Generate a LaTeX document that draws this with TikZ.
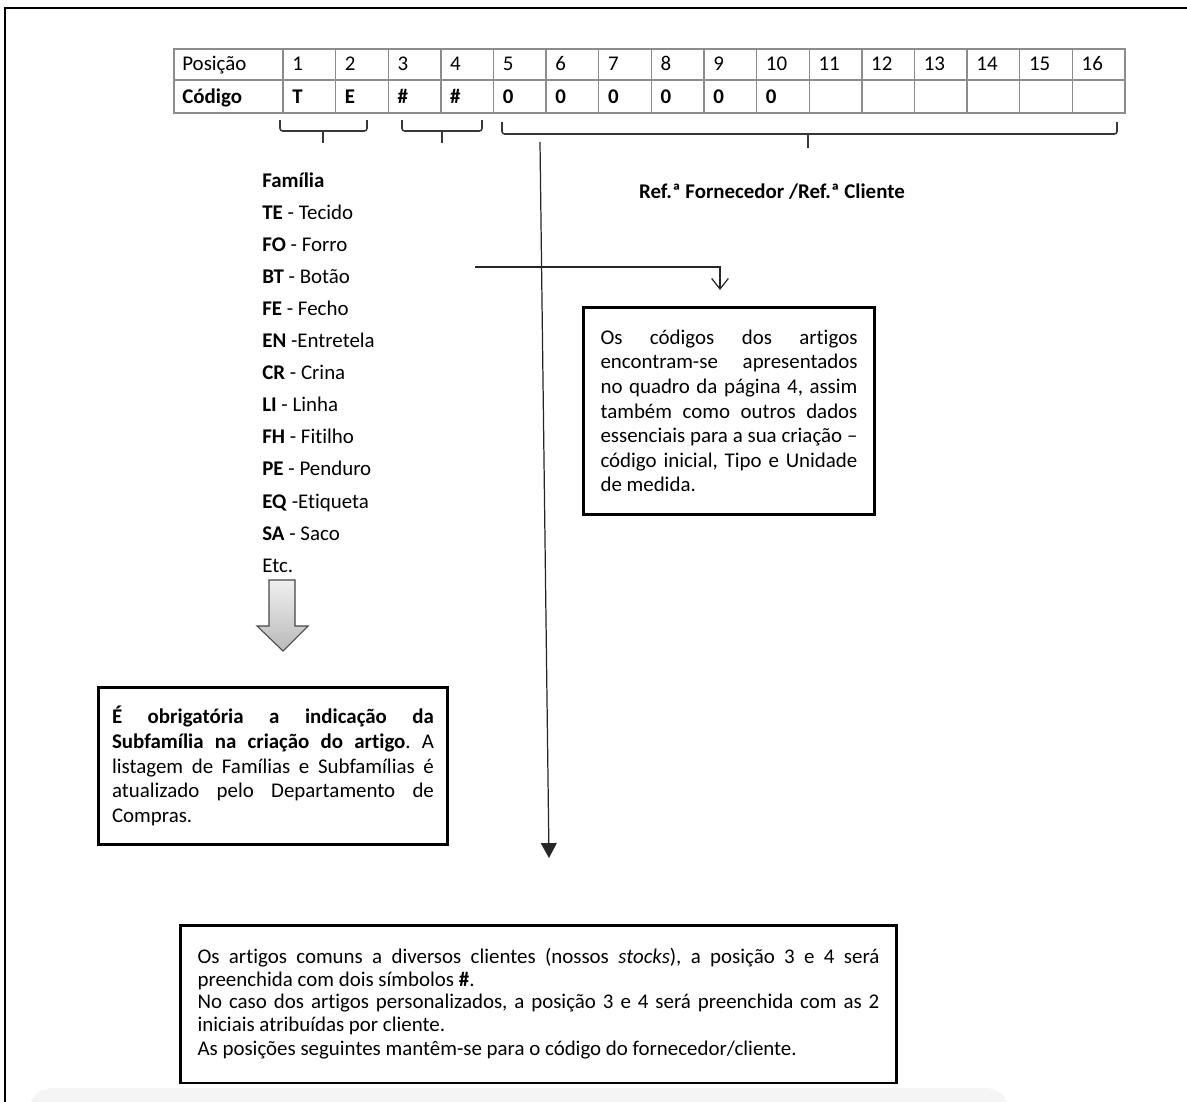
\documentclass[tikz,border=0pt]{standalone}
\usepackage{fontspec}
\setmainfont{Carlito}[Ligatures=NoCommon]
\usetikzlibrary{arrows.meta,positioning}
\definecolor{tabgray}{RGB}{140,140,140}
\definecolor{bracegray}{RGB}{55,55,55}
\definecolor{pagegray}{RGB}{245,245,245}
\frenchspacing

\begin{document}
\begin{tikzpicture}[x=0.02cm, y=-0.02cm,
  every node/.style={font=\fontsize{11.9}{14}\selectfont, inner sep=0pt},
  tabline/.style={draw=tabgray, line width=0.8pt},
  cell/.style={anchor=base west},
  famitem/.style={anchor=base west},
  brace/.style={draw=bracegray, line width=0.9pt, rounded corners=1.5pt},
  notebox/.style={draw, line width=1.7pt, fill=white, align=justify, inner ysep=0pt},
  link/.style={draw=black!85, line width=0.7pt}]
  \useasboundingbox (0,0) rectangle (1187,1102);
  \fill[pagegray, rounded corners=14pt] (28,1088) rectangle (1010,1140);
  \draw[line width=1.6pt] (5,1102) -- (5,8) -- (1187,8);

  % table
  \draw[tabline] (174,49) rectangle (1125,113);
  \draw[tabline] (174,80) -- (1125,80);
  \foreach \c in {0,...,15}
    \draw[tabline] ({283+52.625*\c},49) -- ({283+52.625*\c},113);
  \node[cell] (posh) at (182,71) {Posição};
  \node[cell] (codh) at (182,103) {\textbf{Código}};
  \foreach \n in {1,...,16}
    \node[cell] (pos\n) at ({292+52.625*(\n-1)},71) {\n};
  \foreach \v [count=\n] in {T,E,\#,\#,0,0,0,0,0,0}
    \node[cell] (cod\n) at ({292+52.625*(\n-1)},103) {\textbf{\v}};

  % brackets under the table
  \draw[brace] (280,120) -- (280,131) -- (367,131) -- (367,120);
  \draw[brace] (323,131) -- (323,143);
  \draw[brace] (402,120) -- (402,131) -- (482,131) -- (482,120);
  \draw[brace] (442,131) -- (442,143);
  \draw[brace] (502,122) -- (502,134) -- (1117,134) -- (1117,122);
  \draw[brace] (808,134) -- (808,148);

  % families
  \foreach \t [count=\k] in {\textbf{Família}, \textbf{TE} - Tecido, \textbf{FO} - Forro,
      \textbf{BT} - Botão, \textbf{FE} - Fecho, \textbf{EN} -Entretela, \textbf{CR} - Crina,
      \textbf{LI} - Linha, \textbf{FH} - Fitilho, \textbf{PE} - Penduro,
      \textbf{EQ} -Etiqueta, \textbf{SA} - Saco, Etc.}
    \node[famitem] (fam\k) at (262,{187+32.1*(\k-1)}) {\t};

  \node (refs) at (772,192) {\textbf{Ref.ª Fornecedor /Ref.ª Cliente}};

  % block arrow
  \shade[top color=gray!12, bottom color=gray!55, draw=gray!55!black, line width=0.6pt]
    (269,580) -- (295,580) -- (295,626) -- (308,626) -- (283,651) -- (257,626) -- (269,626) -- cycle;

  % notes
  \node[notebox, text width=5.14cm, inner xsep=0.34cm, minimum height=4.16cm] (codebox) at (729,411)
    {\fontsize{11.9}{14.7}\selectfont\tolerance=10000\lineskiplimit=-10pt
     Os códigos dos artigos\linebreak encontram-se apresentados\linebreak
     no quadro da página 4, assim\linebreak também como outros dados\linebreak
     essenciais para a sua criação –\linebreak código inicial, Tipo e Unidade\linebreak
     de medida.};
  \node[notebox, text width=6.44cm, inner xsep=0.28cm, minimum height=3.16cm] (subbox) at (273,766)
    {\fontsize{11.9}{14.2}\selectfont\tolerance=10000\lineskiplimit=-10pt
     \textbf{É obrigatória a indicação da}\linebreak
     \textbf{Subfamília na criação do artigo}. A\linebreak
     listagem de Famílias e Subfamílias é\linebreak
     atualizado pelo Departamento de\linebreak Compras.};
  \node[notebox, text width=13.64cm, inner xsep=0.35cm, minimum height=3.16cm] (stockbox) at (538.5,1004)
    {\fontsize{11.9}{12.8}\selectfont\tolerance=10000\lineskiplimit=-10pt
     Os artigos comuns a diversos clientes (nossos \textit{stocks}), a posição 3 e 4 será\linebreak
     preenchida com dois símbolos \textbf{\#}.\par
     No caso dos artigos personalizados, a posição 3 e 4 será preenchida com as 2\linebreak
     iniciais atribuídas por cliente.\par
     As posições seguintes mantêm-se para o código do fornecedor/cliente.};

  % connectors
  \coordinate (vtop) at (540,142);
  \coordinate (vend) at (549,858);
  \draw[link, -{Triangle[width=9pt,length=8.5pt]}] (vtop) -- (vend);
  \coordinate (hstart) at (475,267);
  \coordinate (hcorner) at (720,267);
  \coordinate (hend) at (720,290);
  \draw[link, -{Straight Barb[width=9.5pt,length=6pt]}] (hstart) -- (hcorner) -- (hend);
\end{tikzpicture}
\end{document}
